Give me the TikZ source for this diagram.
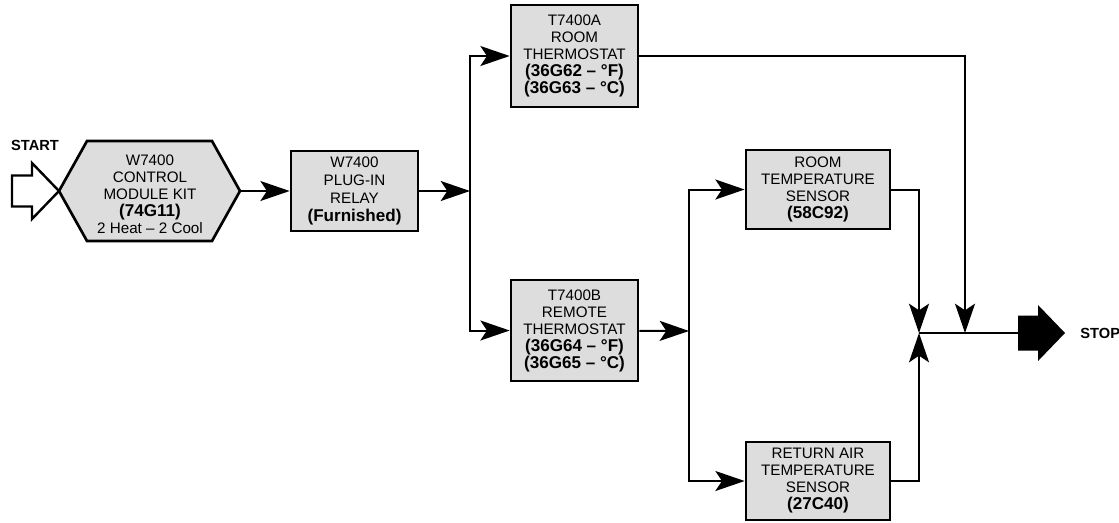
\documentclass[tikz,border=0pt]{standalone}
\usepackage{fontspec}
\setmainfont{Liberation Sans}
\usepackage{tikz}
\usetikzlibrary{arrows.meta}
\definecolor{boxgray}{RGB}{221,221,221}
\newcommand{\partno}[1]{{\bfseries\fontsize{12.8}{12.75}\selectfont #1}}

\begin{document}
\begin{tikzpicture}[x=0.75pt, y=-0.75pt, line width=1.5pt, >={Stealth[length=22pt, width=15pt, inset=5pt]},
  box/.style={draw, line width=2pt, fill=boxgray, align=center, inner sep=0pt, font=\fontsize{11.4}{12.75}\selectfont},
  lbl/.style={font=\bfseries\fontsize{11}{12.5}\selectfont}]
\useasboundingbox (0,0) rectangle (1119,522);
% start and module kit
\node[lbl] (start) at (35,145) {START};
\draw[line width=1.8pt] (12,175.5) -- (32,175.5) -- (32,163) -- (59,191) -- (32,219) -- (32,206.5) -- (12,206.5) -- cycle;
\draw[line width=2pt, fill=boxgray] (59,191) -- (87,141) -- (212,141) -- (240,191) -- (212,241) -- (87,241) -- cycle;
\coordinate (kittip) at (240,191);
\node[align=center, font=\fontsize{11.4}{12.75}\selectfont] (kit) at (150,194) {W7400\\CONTROL\\MODULE KIT\\\partno{(74G11)}\\2 Heat – 2 Cool};
% boxes
\node[box, minimum width=95.25pt, minimum height=60pt, font=\fontsize{11.4}{13.5}\selectfont] (relay) at (354.5,191) {W7400\\PLUG-IN\\RELAY\\\partno{(Furnished)}};
\node[box, minimum width=95.25pt, minimum height=76.5pt] (tA) at (574.5,56) {T7400A\\ROOM\\THERMOSTAT\\\partno{(36G62 – °F)}\\\partno{(36G63 – °C)}};
\node[box, minimum width=95.25pt, minimum height=75.75pt] (tB) at (574.5,330.5) {T7400B\\REMOTE\\THERMOSTAT\\\partno{(36G64 – °F)}\\\partno{(36G65 – °C)}};
\node[box, minimum width=108pt, minimum height=59.25pt] (rs) at (818,189.5) {ROOM\\TEMPERATURE\\SENSOR\\\partno{(58C92)}};
\node[box, minimum width=108pt, minimum height=58.5pt] (ra) at (818,481) {RETURN AIR\\TEMPERATURE\\SENSOR\\\partno{(27C40)}};
% junctions
\coordinate (j1) at (470,191);
\coordinate (j2) at (689,331);
\coordinate (j3) at (919,333);
\coordinate (j4) at (965,333);
\coordinate (stoptail) at (1018,333);
% connectors
\draw[->] (kittip) -- (relay);
\draw[->] (relay) -- (j1);
\draw[->] (j1) |- (tA);
\draw[->] (j1) |- (tB);
\draw[->] (tB) -- (j2);
\draw[->] (j2) |- (rs);
\draw[->] (j2) |- (ra);
\draw[->] (rs) -| (j3);
\draw[->] (ra) -| (j3);
\draw[->] (tA) -| (j4);
\draw (j3) -- (stoptail);
% stop
\fill (1018,315.5) -- (1038,315.5) -- (1038,305) -- (1065,333) -- (1038,361) -- (1038,350.5) -- (1018,350.5) -- cycle;
\node[lbl, anchor=west] (stop) at (1075,333) {STOP};
\end{tikzpicture}
\end{document}
